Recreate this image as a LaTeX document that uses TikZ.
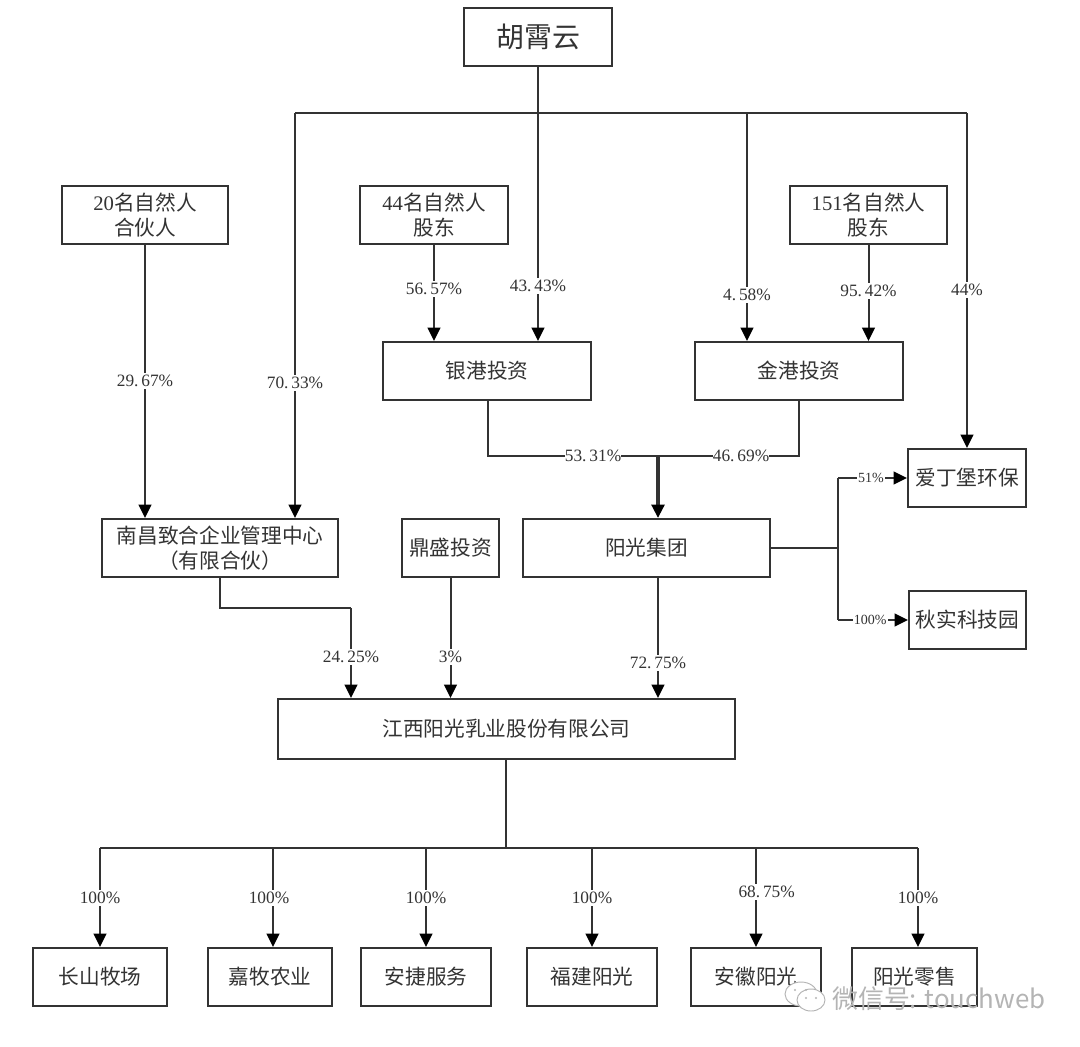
\documentclass[tikz,border=0pt]{standalone}
\usepackage{fontspec}
\setmainfont{Liberation Serif}
\newfontfamily\cjk{Noto Sans CJK SC}
\usetikzlibrary{arrows.meta}
\definecolor{ink}{HTML}{333333}
\definecolor{wm}{HTML}{B4B4B4}
\tikzset{
  bx/.style 2 args={draw=ink,line width=1.5pt,minimum width=#1*0.75pt-1.5pt,minimum height=#2*0.75pt-1.5pt,inner sep=0pt,align=center,text=ink,font=\fontsize{15.5}{19}\selectfont\cjk},
  conn/.style={draw=ink,line width=1.5pt,line join=miter},
  arr/.style={conn,-{Triangle[length=10pt,width=9.5pt,color=black]}},
  lbl/.style={fill=white,inner sep=1.5pt,text=ink,font=\fontsize{13}{15}\selectfont},
  lbs/.style={lbl,inner sep=1pt,font=\fontsize{10.5}{12}\selectfont}
}
\newcommand{\lat}[1]{{\fontspec{Liberation Serif}#1}}
\newcommand{\pd}{.\,}
\begin{document}
\begin{tikzpicture}[x=0.75pt,y=-0.75pt]
\useasboundingbox[fill=white] (0,0) rectangle (1080,1046);
% nodes
\node[bx={150}{60},font=\fontsize{21}{24}\selectfont\cjk] (top) at (538,37) {胡霄云};
\node[bx={168}{60}] (a20) at (145,215) {\lat{20}名自然人\\合伙人};
\node[bx={150}{60}] (a44) at (434,215) {\lat{44}名自然人\\股东};
\node[bx={159}{60}] (a151) at (868.5,215) {\lat{151}名自然人\\股东};
\node[bx={210}{60}] (yin) at (487,371) {银港投资};
\node[bx={210}{60}] (jin) at (799,371) {金港投资};
\node[bx={120}{60}] (ading) at (967,478) {爱丁堡环保};
\node[bx={119}{60}] (qiu) at (967.5,620) {秋实科技园};
\node[bx={249}{60}] (grp) at (646.5,548) {阳光集团};
\node[bx={99}{60}] (ds) at (450.5,548) {鼎盛投资};
\node[bx={238}{60}] (nc) at (220,548) {南昌致合企业管理中心\\（有限合伙）};
\node[bx={459}{62}] (jx) at (506.5,729) {江西阳光乳业股份有限公司};
\node[bx={136}{60}] (c1) at (100,977) {长山牧场};
\node[bx={126}{60}] (c2) at (270,977) {嘉牧农业};
\node[bx={132}{60}] (c3) at (426,977) {安捷服务};
\node[bx={132}{60}] (c4) at (592,977) {福建阳光};
\node[bx={132}{60}] (c5) at (756,977) {安徽阳光};
\node[bx={127}{60}] (c6) at (914.5,977) {阳光零售};
% junctions
\coordinate (tj) at (538,113);
\coordinate (b1) at (295,113);
\coordinate (b2) at (747,113);
\coordinate (b3) at (967,113);
\coordinate (ya) at (488,456);
\coordinate (jm) at (658,456);
\coordinate (jb) at (799,456);
\coordinate (gj) at (838,548);
\coordinate (g1) at (838,478);
\coordinate (g2) at (838,620);
\coordinate (gx) at (658,578);
\coordinate (nb) at (220,608);
\coordinate (nr) at (351,608);
\coordinate (sj) at (506,848);
\coordinate (s1) at (100,848);
\coordinate (s2) at (273,848);
\coordinate (s3) at (426,848);
\coordinate (s4) at (592,848);
\coordinate (s5) at (756,848);
\coordinate (s6) at (918,848);
% upper connectors
\draw[conn] (b1) -- (b3);
\draw[arr] (top.south) -- node[lbl,pos=.8] {43\pd 43\%} (yin.north -| top.south);
\draw[arr] (b1) -- node[lbl,pos=.667] {70\pd 33\%} (nc.north -| b1);
\draw[arr] (b2) -- node[lbl,pos=.798] {4\pd 58\%} (jin.north -| b2);
\draw[arr] (b3) -- node[lbl,pos=.528] {44\%} (ading.north -| b3);
\draw[arr] (a20.south) -- node[lbl,pos=.498] {29\pd 67\%} (nc.north -| a20.south);
\draw[arr] (a44.south) -- node[lbl,pos=.458] {56\pd 57\%} (yin.north -| a44.south);
\draw[arr] (a151.south) -- node[lbl,pos=.48] {95\pd 42\%} (jin.north -| a151.south);
% to group
\draw[conn] (yin.south -| ya) -- (ya) -- node[lbl,inner ysep=0pt,inner xsep=0pt,pos=.618] {53\pd 31\%} (jm) -- node[lbl,inner ysep=0pt,inner xsep=0pt,pos=.589] {46\pd 69\%} (jb) -- (jin.south);
\draw[arr,line width=2.4pt] (jm) -- (grp.north -| jm);
% group to subsidiaries
\draw[conn] (grp.east |- gj) -- (gj);
\draw[conn] (g1) -- (g2);
\draw[arr] (g1) -- node[lbs,pos=.478] {51\%} (ading.west);
\draw[arr] (g2) -- node[lbs,pos=.46] {100\%} (qiu.west);
% to jiangxi
\draw[arr] (gx) -- node[lbl,pos=.708] {72\pd 75\%} (jx.north -| gx);
\draw[arr] (ds.south) -- node[lbl,pos=.658] {3\%} (jx.north -| ds.south);
\draw[conn] (nc.south) -- (nb) -- (nr);
\draw[arr] (nr) -- node[lbl,pos=.544] {24\pd 25\%} (jx.north -| nr);
% bottom
\draw[conn] (jx.south -| sj) -- (sj);
\draw[conn] (s1) -- (s6);
\draw[arr] (s1) -- node[lbl,pos=.505] {100\%} (c1.north -| s1);
\draw[arr] (s2) -- node[lbl,pos=.505,xshift=-3pt] {100\%} (c2.north -| s2);
\draw[arr] (s3) -- node[lbl,pos=.505] {100\%} (c3.north -| s3);
\draw[arr] (s4) -- node[lbl,pos=.505] {100\%} (c4.north -| s4);
\draw[arr] (s5) -- node[lbl,pos=.444,xshift=8pt] {68\pd 75\%} (c5.north -| s5);
\draw[arr] (s6) -- node[lbl,pos=.505] {100\%} (c6.north -| s6);
% watermark
\draw[wm,line width=.7pt,fill=white] (801,994) ellipse (16 and 12);
\draw[wm,line width=.7pt,fill=white] (811,1000) ellipse (14 and 11);
\fill[wm] (795,990) circle (1.2) (806,990) circle (1.2) (806,998) circle (1.2) (816,998) circle (1.2);
\node[text=wm,inner sep=0pt,anchor=west,font=\fontsize{19.4}{21}\selectfont\cjk] (mark) at (832,999) {微信号: touchweb};
\end{tikzpicture}
\end{document}
